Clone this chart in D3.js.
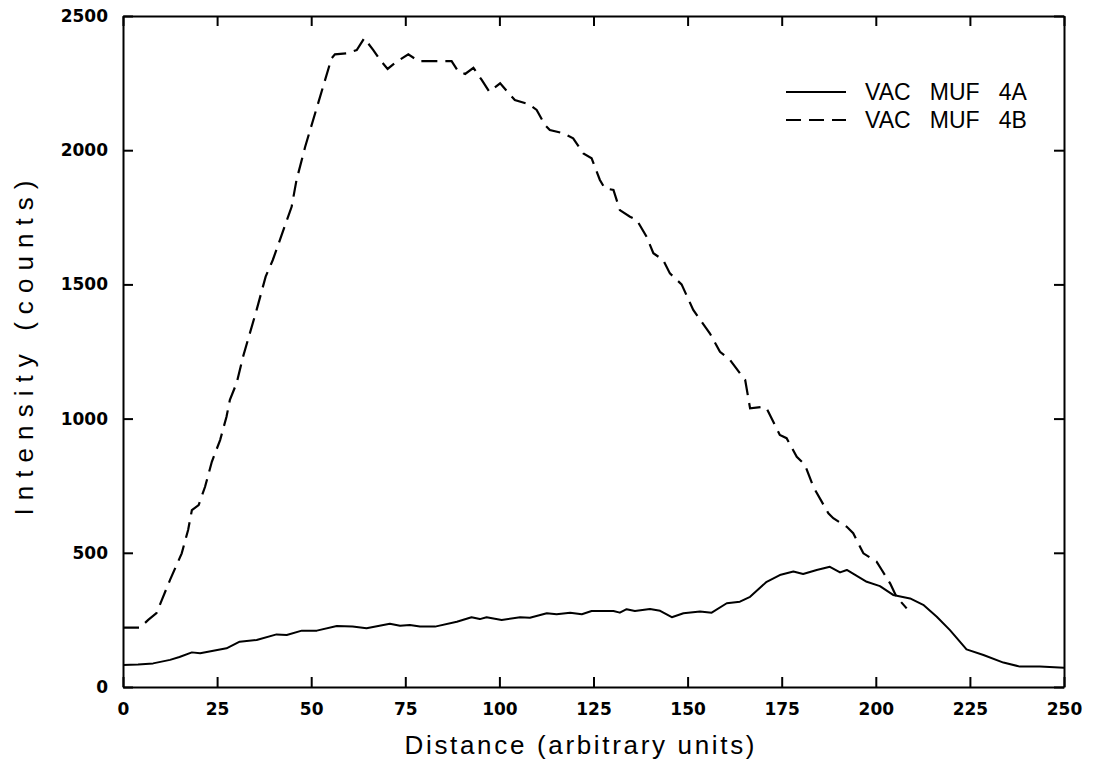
<!DOCTYPE html>
<html>
<head>
<meta charset="utf-8">
<script src="https://cdn.jsdelivr.net/npm/d3@7"></script>
<style>
  body { margin: 0; background: #fff; }
  svg { display: block; }
</style>
</head>
<body>
<svg id="chart"></svg>
<script>
// series: distance (x) and intensity (counts)
const xA = [0, 4, 8, 12.5, 15, 18.3, 20.5, 24, 27.5, 31, 35.5, 40.8, 43.5, 47.5, 51.5, 56.8, 61, 64.7, 70.9, 73.6,
  76.2, 78.9, 82.9, 88.7, 92.6, 94.8, 96.6, 100.6, 105.5, 108.1, 112.6, 115.2, 118.8, 121.9, 124.5, 130.3, 132, 133.8,
  136, 140, 142.7, 145.8, 148.9, 153.3, 156.4, 160.4, 163.9, 166.6, 171, 174.5, 178.1, 180.7, 184.3, 187.8, 190.5,
  192.3, 197.6, 201.1, 204.6, 209.1, 212.6, 216.2, 219.7, 224.1, 228.6, 233.9, 238.3, 243.6, 250];
const yA = [82, 84, 88, 101, 112, 129, 126, 135, 144, 169, 175, 196, 194, 210, 210, 227, 225, 219, 236, 228,
  231, 225, 225, 243, 260, 253, 260, 250, 260, 258, 275, 271, 277, 271, 283, 283, 277, 290,
  283, 291, 284, 260, 275, 281, 277, 312, 318, 336, 392, 417, 430, 421, 436, 448, 427,
  436, 392, 376, 343, 330, 306, 262, 212, 140, 119, 91, 76, 76, 72];

const xB = [0, 4.5, 6.7, 8.9, 10.3, 12.5, 15.6, 17.3, 18.3, 20.1, 21.8, 23.6, 25.8, 27.5, 28.4, 30.2, 31.9, 35.5,
  37.9, 39.8, 44.8, 46.1, 48.4, 55.4, 56.3, 59.4, 62.1, 64.1, 66.5, 68.3, 70.3, 72.7, 75.8, 78.5, 82.4, 87.3, 89.1,
  90.9, 93.1, 95.3, 97.3, 100.2, 104.1, 107.7, 109.9, 112.1, 113.4, 117, 119.6, 122.3, 124.5, 126.7, 128, 130.3,
  132, 134.7, 136.5, 139.1, 140.9, 143.5, 145.3, 148.4, 151.5, 155.9, 158.6, 161.3, 163.9, 165.3, 166.6, 170.1,
  171, 174.5, 176.3, 179, 181.2, 183.4, 187.4, 188.7, 192.3, 194, 196.7, 200.2, 201.6, 203.8, 205.5, 208.2];
const yB = [221, 221, 250, 275, 324, 399, 498, 585, 659, 678, 746, 839, 920, 1007, 1070, 1133, 1231, 1405,
  1529, 1591, 1789, 1889, 2013, 2342, 2357, 2361, 2373, 2417, 2373, 2336, 2303, 2330, 2357, 2332, 2332, 2332, 2293,
  2284, 2307, 2262, 2218, 2249, 2187, 2172, 2150, 2094, 2075, 2063, 2044, 1988, 1970, 1889, 1858, 1852,
  1777, 1752, 1740, 1678, 1616, 1591, 1541, 1500, 1405, 1318, 1249, 1218, 1169, 1144, 1038, 1044,
  1038, 939, 927, 858, 827, 746, 647, 629, 597, 573, 498, 467, 436, 386, 336, 293];

const xTicks = [0, 25, 50, 75, 100, 125, 150, 175, 200, 225, 250];
const yTicks = [0, 500, 1000, 1500, 2000, 2500];
const seriesNames = ["VAC   MUF   4A", "VAC   MUF   4B"];

const width = 1095, height = 767;
const margin = {top: 16, right: 31, bottom: 80, left: 123};
const innerW = width - margin.left - margin.right,
      innerH = height - margin.top - margin.bottom;

const svg = d3.select("#chart").attr("width", width).attr("height", height);
const g = svg.append("g").attr("transform", `translate(${margin.left},${margin.top})`);

const x = d3.scaleLinear().domain([0, 250]).range([0, innerW]);
const y = d3.scaleLinear().domain([0, 2500]).range([innerH, 0]);

// axes, ticks point into the plot on all four sides
const tickFont = "'DejaVu Sans', sans-serif";
function styleAxis(sel) {
  sel.selectAll(".domain").attr("stroke", "#000").attr("stroke-width", 2);
  sel.selectAll(".tick line").attr("stroke", "#000").attr("stroke-width", 2);
  sel.selectAll("text").attr("font-family", tickFont).attr("font-weight", "bold")
    .attr("font-size", 17).attr("fill", "#000");
}

g.append("g").attr("transform", `translate(0,${innerH})`)
  .call(d3.axisBottom(x).tickValues(xTicks).tickSize(-10).tickSizeOuter(0).tickPadding(16).tickFormat(d3.format("d")))
  .call(styleAxis);
g.append("g")
  .call(d3.axisLeft(y).tickValues(yTicks).tickSize(-10).tickSizeOuter(0).tickPadding(15).tickFormat(d3.format("d")))
  .call(styleAxis);
g.append("g")
  .call(d3.axisTop(x).tickValues(xTicks).tickSize(-10).tickSizeOuter(0).tickFormat(""))
  .call(styleAxis);
g.append("g").attr("transform", `translate(${innerW},0)`)
  .call(d3.axisRight(y).tickValues(yTicks).tickSize(-10).tickSizeOuter(0).tickFormat(""))
  .call(styleAxis);

// curves
const line = d3.line().x(d => x(d[0])).y(d => y(d[1]));
const dataA = xA.map((v, i) => [v, yA[i]]);
const dataB = xB.map((v, i) => [v, yB[i]]);

g.append("path").datum(dataA)
  .attr("d", line).attr("fill", "none").attr("stroke", "#000")
  .attr("stroke-width", 2).attr("stroke-linejoin", "round");
g.append("path").datum(dataB)
  .attr("d", line).attr("fill", "none").attr("stroke", "#000")
  .attr("stroke-width", 2.2).attr("stroke-dasharray", "16,8");

// legend
const legend = g.append("g").attr("transform", `translate(${786 - margin.left},${92 - margin.top})`);
seriesNames.forEach((name, i) => {
  const ly = i * 28;
  legend.append("line")
    .attr("x1", 0).attr("x2", 60).attr("y1", ly).attr("y2", ly)
    .attr("stroke", "#000").attr("stroke-width", 2)
    .attr("stroke-dasharray", i === 1 ? "15,8" : null);
  legend.append("text")
    .attr("x", 79).attr("y", ly + 8)
    .attr("font-family", "'Liberation Sans', Arial, sans-serif")
    .attr("font-size", 23)
    .style("white-space", "pre")
    .text(name);
});

// axis titles
svg.append("text")
  .attr("x", margin.left + innerW / 2 - 14).attr("y", 754)
  .attr("text-anchor", "middle")
  .attr("font-family", "'Liberation Sans', Arial, sans-serif")
  .attr("font-size", 26)
  .attr("textLength", 350).attr("lengthAdjust", "spacing")
  .text("Distance (arbitrary units)");

svg.append("text")
  .attr("transform", "translate(33,348) rotate(-90)")
  .attr("text-anchor", "middle")
  .attr("font-family", "'Liberation Sans', Arial, sans-serif")
  .attr("font-size", 26)
  .attr("textLength", 335).attr("lengthAdjust", "spacing")
  .text("Intensity (counts)");
</script>
</body>
</html>
